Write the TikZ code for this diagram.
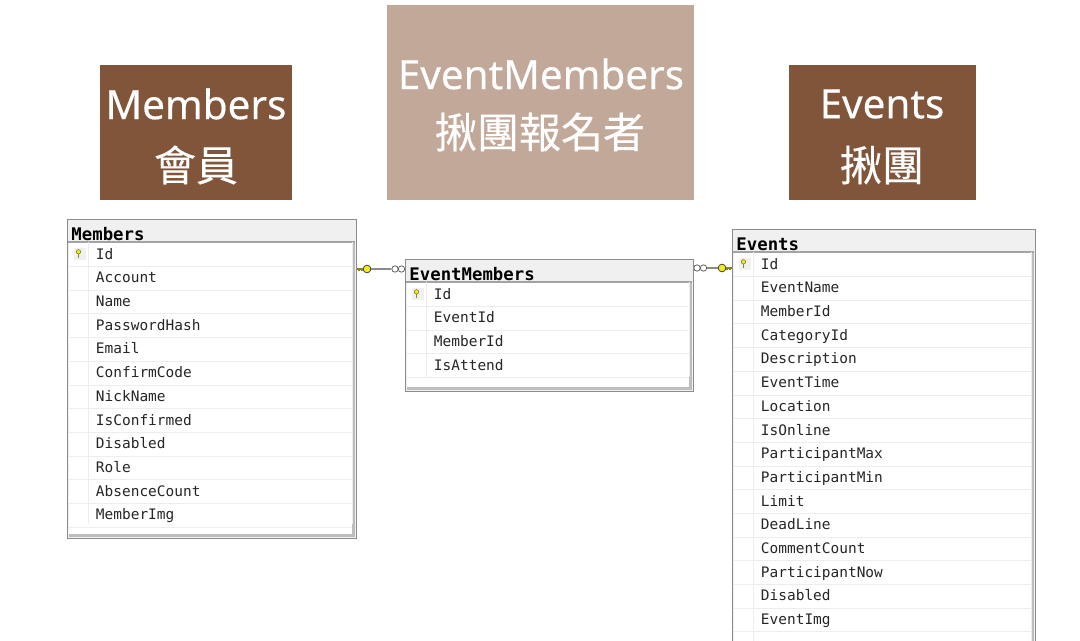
\documentclass[tikz,border=0pt]{standalone}
\usepackage{fontspec}
\setmainfont[FakeBold=0.35]{Noto Sans}
\setmonofont{DejaVu Sans Mono}
\newfontfamily\cjkfont[FakeBold=0.35]{Noto Sans CJK TC}
\definecolor{brownbox}{HTML}{80553A}
\definecolor{tanbox}{HTML}{C2A898}
\definecolor{framegray}{HTML}{8C8C8C}
\definecolor{headgray}{HTML}{F0F0F0}
\definecolor{rulegray}{HTML}{EDEDED}
\definecolor{shadegray}{HTML}{BDBDBD}
\definecolor{keyyellow}{HTML}{F2EE1E}
\definecolor{keyolive}{HTML}{8C8420}
\tikzset{
  bannerlatin/.style={text=white,inner sep=0pt,font=\fontsize{30.3pt}{34pt}\selectfont},
  bannercjk/.style={text=white,inner sep=0pt,font=\fontsize{31.5pt}{34pt}\selectfont\cjkfont},
  tableframe/.style={draw=framegray,line width=1.1pt,fill=headgray,inner sep=0pt,anchor=north west},
  tabletitle/.style={anchor=base west,inner sep=0pt,font=\fontsize{13pt}{15pt}\selectfont\ttfamily\bfseries,text=black},
  rowtext/.style={anchor=base west,inner sep=0pt,font=\fontsize{10.85pt}{13pt}\selectfont\ttfamily,text=black!85},
  rel/.style={draw=framegray,line width=0.9pt},
  crowring/.style={circle,draw=black!65,fill=white,line width=0.55pt,minimum size=4.8pt,inner sep=0pt},
  keyring/.style={circle,draw=black!80,fill=keyyellow,line width=0.55pt,minimum size=5.8pt,inner sep=0pt},
  keyshaft/.style={draw=keyolive,line width=1.1pt},
}
% name, x0, y0, x1, y1, rows
\newcommand{\dbtable}[6]{%
  \node[tableframe,minimum width=(#4-#2)*0.75pt,minimum height=(#5-#3)*0.75pt] (#1) at (#2,#3) {};
  \fill[white] (#2+2,#3+23) rectangle (#4-1,#5-1);
  \fill[shadegray] (#4-4,#3+23) rectangle (#4-1,#5-1);
  \fill[shadegray] (#2+2,#5-4) rectangle (#4-1,#5-1);
  \draw[framegray!80,line width=0.8pt] (#2+1,#3+23) -- (#4-1,#3+23);
  \node[tabletitle] (#1title) at (#2+4.2,#3+22) {#1};
  \draw[rulegray,line width=0.6pt] (#2+21,#3+23) -- (#2+21,#5-14);
  \draw[rulegray,line width=0.6pt] (#4-4,#3+23) -- (#4-4,#5-14);
  \fill[headgray] (#2+7,#3+29) rectangle (#2+19,#3+41);
  \draw[keyolive,line width=1.3pt] (#2+11.5,#3+33.5) -- (#2+11.5,#3+39);
  \fill[keyyellow,draw=keyolive,line width=0.5pt] (#2+11.5,#3+32.8) circle (2.2);
  \foreach \rowname [count=\rowi from 0] in {#6} {
    \pgfmathsetmacro{\rowy}{#3+35.6+\rowi*23.69}
    \pgfmathsetmacro{\ruley}{\rowy+11.85}
    \node[rowtext] (#1row\rowi) at (#2+28.7,\rowy+4.6) {\rowname};
    \draw[rulegray,line width=0.6pt] (#2+2,\ruley) -- (#4-4,\ruley);
  }
}
\begin{document}
\begin{tikzpicture}[x=0.75pt,y=-0.75pt]
\useasboundingbox (0,0) rectangle (1080,641);
\fill[white] (0,0) rectangle (1080,641);
% banners
\fill[brownbox] (100,65) rectangle (292,200);
\fill[tanbox] (387,5) rectangle (694,200);
\fill[brownbox] (789,65) rectangle (976,200);
\node[bannerlatin] (bannerA) at (196,104) {Members};
\node[bannercjk] (bannerAz) at (196,165) {會員};
\node[bannerlatin] (bannerB) at (541,74) {EventMembers};
\node[bannercjk] (bannerBz) at (540,132) {揪團報名者};
\node[bannerlatin] (bannerC) at (882,104) {Events};
\node[bannercjk] (bannerCz) at (882,165) {揪團};
% tables
\dbtable{Members}{67}{219}{356}{538}{Id,Account,Name,PasswordHash,Email,ConfirmCode,NickName,IsConfirmed,Disabled,Role,AbsenceCount,MemberImg}
\dbtable{EventMembers}{405}{259}{693}{391}{Id,EventId,MemberId,IsAttend}
\dbtable{Events}{732}{229}{1035}{660}{Id,EventName,MemberId,CategoryId,Description,EventTime,Location,IsOnline,ParticipantMax,ParticipantMin,Limit,DeadLine,CommentCount,ParticipantNow,Disabled,EventImg}
% relationship Members -- EventMembers
\node[keyring] (keyA) at (367,269) {};
\node[crowring] (ringA) at (395,269) {};
\node[crowring] (ringAb) at (401.5,269) {};
\draw[rel] (keyA) -- (ringA);
\draw[rel] (ringAb) -- (EventMembers.west |- ringAb);
\draw[keyshaft] (Members.east |- keyA) -- (keyA);
\draw[keyolive,line width=0.8pt] (359,269) -- (359,271.5) (362,269) -- (362,271.5);
% relationship EventMembers -- Events
\node[crowring] (ringBb) at (697,268) {};
\node[crowring] (ringB) at (703.5,268) {};
\node[keyring] (keyB) at (722,268) {};
\draw[rel] (ringB) -- (keyB);
\draw[rel] (EventMembers.east |- ringBb) -- (ringBb);
\draw[keyshaft] (keyB) -- (Events.west |- keyB);
\draw[keyolive,line width=0.8pt] (727,268) -- (727,270.5) (730,268) -- (730,270.5);
\end{tikzpicture}
\end{document}
